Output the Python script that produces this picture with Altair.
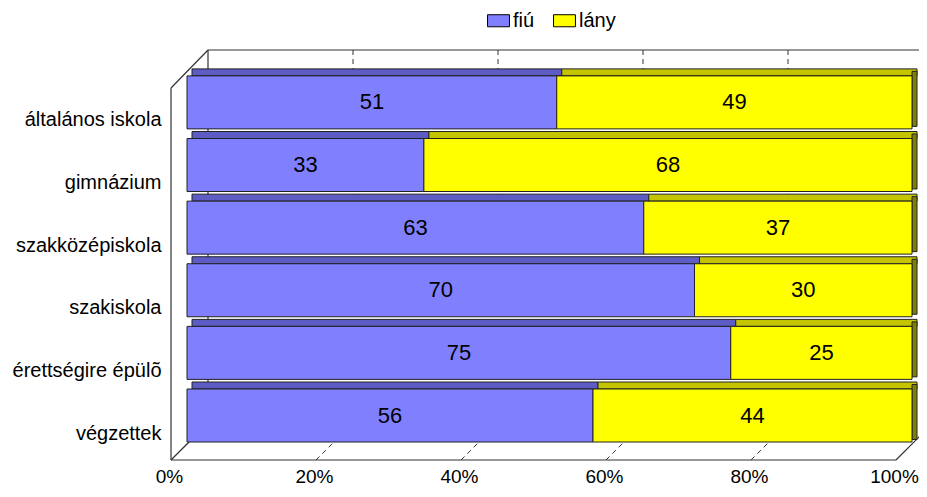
import altair as alt
import pandas as pd

categories = ["általános iskola", "gimnázium", "szakközépiskola", "szakiskola",
              "érettségire épülõ", "végzettek"]
fiu = [51, 33, 63, 70, 75, 56]
lany = [49, 68, 37, 30, 25, 44]
series = ["fiú", "lány"]
front_colors = ["#8080FF", "#FFFF00"]
top_colors = ["#5C5CC4", "#C4C400"]
grid_vals = [0.2, 0.4, 0.6, 0.8]
tick_vals = [0, 0.2, 0.4, 0.6, 0.8, 1.0]

rows = []
for c, f, l in zip(categories, fiu, lany):
    tot = f + l
    rows.append(dict(cat=c, sex="fiú", val=f, start=0.0, end=f / tot, top=top_colors[0]))
    rows.append(dict(cat=c, sex="lány", val=l, start=f / tot, end=1.0, top=top_colors[1]))
df = pd.DataFrame(rows)
df["mid"] = (df["start"] + df["end"]) / 2
side = df[df["sex"] == "lány"].copy()
grid = pd.DataFrame({"g": grid_vals})

FONT = "Liberation Sans"
AX = 20
xs = alt.Scale(domain=[0, 1], nice=False, zero=False)
ys = alt.Scale(domain=categories, paddingInner=0.153, paddingOuter=0.35, align=0.59)

X = alt.X("start:Q", scale=xs,
          axis=alt.Axis(values=tick_vals, format="%", title=None, grid=False, ticks=False,
                        domain=False, labelOffset=-18, labelPadding=7, labelFlush=False,
                        labelFontSize=19, labelFont=FONT, labelColor="#000"))
Y = alt.Y("cat:N", scale=ys, sort=categories,
          axis=alt.Axis(title=None, ticks=False, domain=False, labelPadding=26,
                        labelOffset=18, labelFontSize=AX, labelFont=FONT,
                        labelColor="#000", labelLimit=300))

LINE = "#333333"

gridlines = alt.Chart(grid).mark_rule(color=LINE, strokeDash=[5, 4], strokeWidth=1,
                                      xOffset=21).encode(
    x=alt.X("g:Q", scale=xs), y=alt.value(0), y2=alt.value(373))
floorlines = alt.Chart(grid).mark_rule(color=LINE, strokeDash=[5, 4], strokeWidth=1,
                                       xOffset=-16, x2Offset=21).encode(
    x=alt.X("g:Q", scale=xs), x2="g:Q", y=alt.value(410), y2=alt.value(373))

frame_src = pd.DataFrame({"a": [0]})
def seg(x1, x2, xo1, xo2, y1, y2):
    return alt.Chart(frame_src).mark_rule(color=LINE, strokeWidth=1.2,
                                          xOffset=xo1, x2Offset=xo2).encode(
        x=alt.X("x1:Q", scale=xs), x2="x2:Q", y=alt.value(y1), y2=alt.value(y2)
    ).transform_calculate(x1=str(x1), x2=str(x2))

frame = [
    seg(0, 1, 21, 21, 0, 0),
    seg(0, 0, 21, 21, 0, 373),
    seg(0, 0, -16, 21, 38, 0),
    seg(0, 0, -16, -16, 38, 410),
    seg(0, 0, -16, 21, 410, 373),
    seg(0, 1, -16, -16, 410, 410),
    seg(1, 1, -16, 21, 410, 373),
]

base = alt.Chart(df)
tops = base.mark_bar(size=7, yOffset=-30, xOffset=5, x2Offset=5, stroke="#222",
                     strokeWidth=1).encode(
    x=X, x2="end:Q", y=Y, fill=alt.Fill("top:N", scale=None, legend=None))
sides = alt.Chart(side).mark_bar(size=55, yOffset=-3.5, x2Offset=5, color="#808000",
                                 stroke="#222", strokeWidth=1).encode(
    x=alt.X("end:Q", scale=xs), x2="end:Q", y=Y)
fronts = base.mark_bar(size=53, stroke="#222", strokeWidth=1).encode(
    x=X, x2="end:Q", y=Y,
    color=alt.Color("sex:N", scale=alt.Scale(domain=series, range=front_colors),
                    legend=alt.Legend(title=None, orient="none", legendX=300, legendY=-41,
                                      direction="horizontal",
                                      symbolType="M-1,-0.55H1V0.55H-1Z",
                                      symbolSize=480, symbolStrokeColor="#000",
                                      symbolStrokeWidth=1, labelFontSize=AX,
                                      labelFont=FONT, labelColor="#000",
                                      columnPadding=16, labelOffset=3,
                                      symbolOpacity=1)))
labels = base.mark_text(fontSize=22, font=FONT, color="#000").encode(
    x=alt.X("mid:Q", scale=xs), y=Y, text="val:Q")

chart = alt.layer(gridlines, floorlines, *frame, tops, sides, fronts, labels).properties(
    width=725, height=410,
    autosize=alt.AutoSizeParams(type="none"),
    padding={"left": 179, "top": 42, "right": 7, "bottom": 29},
).configure_view(stroke=None)

chart.save("out.html", embed_options={"renderer": "svg", "actions": False})
